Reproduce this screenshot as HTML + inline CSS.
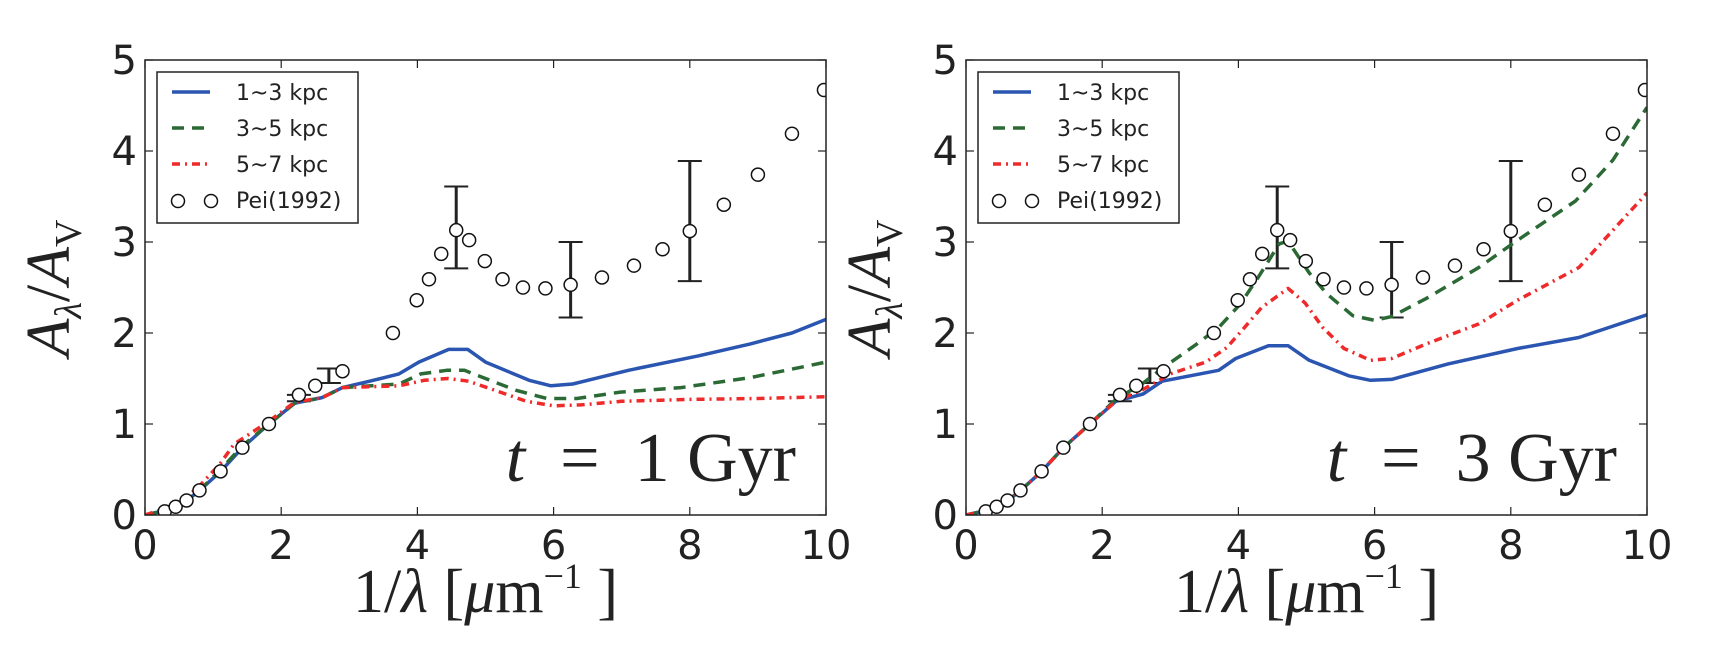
<!DOCTYPE html>
<html><head><meta charset="utf-8"><style>
html,body{margin:0;padding:0;background:#fff}
svg{display:block}
text{font-family:"DejaVu Sans","Liberation Sans",sans-serif;fill:#222}
.serif{font-family:"Liberation Serif","DejaVu Serif",serif}
</style></head><body>
<svg id="chart" width="1716" height="658" viewBox="0 0 1716 658" xmlns="http://www.w3.org/2000/svg"></svg>
<script>
const peiX=[0.29,0.45,0.61,0.80,1.11,1.43,1.82,2.26,2.50,2.90,3.64,3.99,4.17,4.35,4.57,4.76,4.99,5.25,5.55,5.88,6.25,6.71,7.18,7.60,8.0,8.50,9.0,9.5,9.97];
const peiY=[0.04,0.09,0.16,0.27,0.48,0.74,1.0,1.32,1.42,1.58,2.0,2.36,2.59,2.87,3.13,3.02,2.79,2.59,2.50,2.49,2.53,2.61,2.74,2.92,3.12,3.41,3.74,4.19,4.67];
const errX=[2.26,2.70,4.57,6.25,8.0];
const errLo=[1.25,1.45,2.71,2.17,2.57];
const errHi=[1.32,1.61,3.61,3.00,3.89];
// t = 1 Gyr
const l_blueX=[0,0.3,0.6,0.8,1.1,1.43,1.82,2.2,2.6,2.9,3.3,3.73,4.02,4.46,4.74,5.0,5.64,5.96,6.28,7.1,8.13,8.89,9.5,10];
const l_blueY=[0,0.05,0.15,0.27,0.47,0.74,1.0,1.23,1.29,1.40,1.47,1.55,1.68,1.82,1.82,1.68,1.48,1.42,1.44,1.59,1.75,1.88,2.0,2.15];
const l_greenX=[0,0.3,0.6,0.8,1.1,1.43,1.82,2.2,2.6,2.9,3.73,4.05,4.43,4.69,5.0,5.45,5.9,6.34,6.98,7.87,8.89,10];
const l_greenY=[0,0.05,0.15,0.27,0.49,0.76,1.0,1.23,1.29,1.40,1.44,1.55,1.59,1.59,1.50,1.37,1.28,1.28,1.35,1.40,1.51,1.68];
const l_redX=[0,0.3,0.6,0.8,1.1,1.31,1.82,2.2,2.6,2.9,3.73,4.1,4.45,4.75,5.1,5.6,6.0,6.4,7,8,9,10];
const l_redY=[0,0.07,0.19,0.32,0.56,0.78,1.03,1.24,1.29,1.40,1.42,1.48,1.50,1.47,1.38,1.25,1.20,1.21,1.25,1.27,1.28,1.30];
// t = 3 Gyr
const r_blueX=[0,0.3,0.6,0.8,1.1,1.43,1.82,2.2,2.6,2.88,3.71,3.96,4.44,4.73,5.04,5.62,5.94,6.25,7.08,8.1,9,10];
const r_blueY=[0,0.05,0.15,0.27,0.47,0.74,1.0,1.25,1.33,1.47,1.59,1.72,1.86,1.86,1.70,1.53,1.48,1.49,1.66,1.83,1.95,2.2];
const r_greenX=[0,0.3,0.6,0.8,1.1,1.43,1.82,2.2,2.6,2.88,3.39,3.71,4.03,4.28,4.6,4.73,5.04,5.30,5.68,6.0,6.25,6.76,7.53,8.1,8.95,9.5,10];
const r_greenY=[0,0.05,0.15,0.27,0.47,0.74,1.0,1.27,1.45,1.61,1.88,2.06,2.32,2.6,2.98,3.01,2.66,2.43,2.19,2.14,2.18,2.38,2.72,3.02,3.45,3.9,4.48];
const r_redX=[0,0.3,0.6,0.8,1.1,1.43,1.82,2.2,2.6,3.0,3.52,3.83,4.09,4.34,4.73,4.98,5.24,5.55,5.94,6.25,6.76,7.53,8.1,9,10];
const r_redY=[0,0.05,0.15,0.27,0.47,0.74,1.0,1.25,1.38,1.55,1.68,1.84,2.06,2.28,2.49,2.33,2.06,1.83,1.70,1.72,1.88,2.1,2.36,2.72,3.54];
const xTicks=[0,2,4,6,8,10];
const yTicks=[0,1,2,3,4,5];
const legendLabels=["1~3 kpc","3~5 kpc","5~7 kpc","Pei(1992)"];

const NS="http://www.w3.org/2000/svg";
const svg=document.getElementById('chart');
function mk(tag,attrs,parent){const e=document.createElementNS(NS,tag);for(const k in attrs)e.setAttribute(k,attrs[k]);(parent||svg).appendChild(e);return e;}

function panel(x0,label,series,id){
  const X0=x0,X1=x0+681,Y0=515,Y1=60;
  const sx=v=>X0+(v/10)*(X1-X0);
  const sy=v=>Y0-(v/5)*(Y0-Y1);
  const g=mk('g',{});
  
  
  const clipId='clip-'+id;
  const cp=mk('clipPath',{id:clipId},g);
  mk('rect',{x:X0,y:Y1,width:X1-X0,height:Y0-Y1},cp);
  const plot=mk('g',{'clip-path':'url(#'+clipId+')'},g);
  errX.forEach((v,i)=>{
    const e=mk('g',{stroke:'#222','stroke-width':3},plot);
    
    
    mk('line',{x1:sx(v),x2:sx(v),y1:sy(errLo[i]),y2:sy(errHi[i])},e);
    mk('line',{x1:sx(v)-12,x2:sx(v)+12,y1:sy(errLo[i]),y2:sy(errLo[i]),'stroke-width':2},e);
    mk('line',{x1:sx(v)-12,x2:sx(v)+12,y1:sy(errHi[i]),y2:sy(errHi[i]),'stroke-width':2},e);
  });
  const styles=[{c:'#2a55b0',d:''},{c:'#2b6a35',d:'12 8'},{c:'#ee2a2a',d:'8 5 2 5'}];
  const names=['line-1-3kpc','line-3-5kpc','line-5-7kpc'];
  series.forEach((s,i)=>{
    const p=mk('path',{d:s[0].map((v,j)=>(j?'L':'M')+sx(v).toFixed(1)+','+sy(s[1][j]).toFixed(1)).join(''),fill:'none',stroke:styles[i].c,'stroke-width':3.5,'stroke-dasharray':styles[i].d,'stroke-linejoin':'round'},plot);
    
    
  });
  peiX.forEach((v,i)=>{
    const c=mk('circle',{cx:sx(v),cy:sy(peiY[i]),r:6.5,fill:'#fff',stroke:'#111','stroke-width':1.5},plot);
    
    
  });
  const fr=mk('rect',{x:X0,y:Y1,width:X1-X0,height:Y0-Y1,fill:'none',stroke:'#222','stroke-width':1.5},g);
  
  
  xTicks.forEach(t=>{
    mk('line',{x1:sx(t),x2:sx(t),y1:Y0,y2:Y0-8,stroke:'#222','stroke-width':1.2},g);
    mk('line',{x1:sx(t),x2:sx(t),y1:Y1,y2:Y1+8,stroke:'#222','stroke-width':1.2},g);
    const tx=mk('text',{x:sx(t),y:Y0+44,'text-anchor':'middle','font-size':40},g);
    tx.textContent=t;
    
    
  });
  yTicks.forEach(t=>{
    mk('line',{x1:X0,x2:X0+8,y1:sy(t),y2:sy(t),stroke:'#222','stroke-width':1.2},g);
    mk('line',{x1:X1,x2:X1-8,y1:sy(t),y2:sy(t),stroke:'#222','stroke-width':1.2},g);
    const ty=mk('text',{x:X0-8,y:sy(t)+14,'text-anchor':'end','font-size':40},g);
    ty.textContent=t;
    
    
  });
  const lg=mk('g',{},g);
  
  
  const LX=X0+12;
  mk('rect',{x:LX,y:72,width:201,height:151,fill:'#fff',stroke:'#222','stroke-width':1.5},lg);
  legendLabels.forEach((lab,i)=>{
    const cy=92+i*36;
    if(i<3){mk('line',{x1:LX+15,x2:LX+53,y1:cy,y2:cy,stroke:styles[i].c,'stroke-width':3.5,'stroke-dasharray':styles[i].d},lg);}
    else{mk('circle',{cx:LX+21,cy:cy+1,r:6.5,fill:'#fff',stroke:'#111','stroke-width':1.5},lg);mk('circle',{cx:LX+54,cy:cy+1,r:6.5,fill:'#fff',stroke:'#111','stroke-width':1.5},lg);}
    const t=mk('text',{x:LX+79,y:cy+8,'font-size':22},lg);
    t.textContent=lab;
    
    
  });
  const tl=mk('text',{x:X1-30,y:481,'text-anchor':'end','font-size':70,class:'serif'},g);
  tl.innerHTML='<tspan font-style="italic">t</tspan>  =  '+label+' Gyr';
  tl.setAttribute('xml:space','preserve');
  tl.style.whiteSpace='pre';
  
  
  const yl=mk('text',{transform:'translate('+(X0-76)+',288) rotate(-90)','text-anchor':'middle','font-size':62,class:'serif'},g);
  yl.innerHTML='<tspan font-style="italic">A</tspan><tspan font-size="38" font-style="italic" dy="12">λ</tspan><tspan dy="-12">/</tspan><tspan font-style="italic">A</tspan><tspan font-size="38" dy="12">V</tspan>';
  
  
  const xl=mk('text',{x:(X0+X1)/2,y:612,'text-anchor':'middle','font-size':62,class:'serif'},g);
  xl.innerHTML='1/<tspan font-style="italic">λ</tspan> [<tspan font-style="italic">μ</tspan>m<tspan font-size="36" dy="-24">−1</tspan><tspan dy="24"> ]</tspan>';
  
  
}
panel(145,'1',[[l_blueX,l_blueY],[l_greenX,l_greenY],[l_redX,l_redY]],'t1');
panel(966,'3',[[r_blueX,r_blueY],[r_greenX,r_greenY],[r_redX,r_redY]],'t3');
</script>
</body></html>
